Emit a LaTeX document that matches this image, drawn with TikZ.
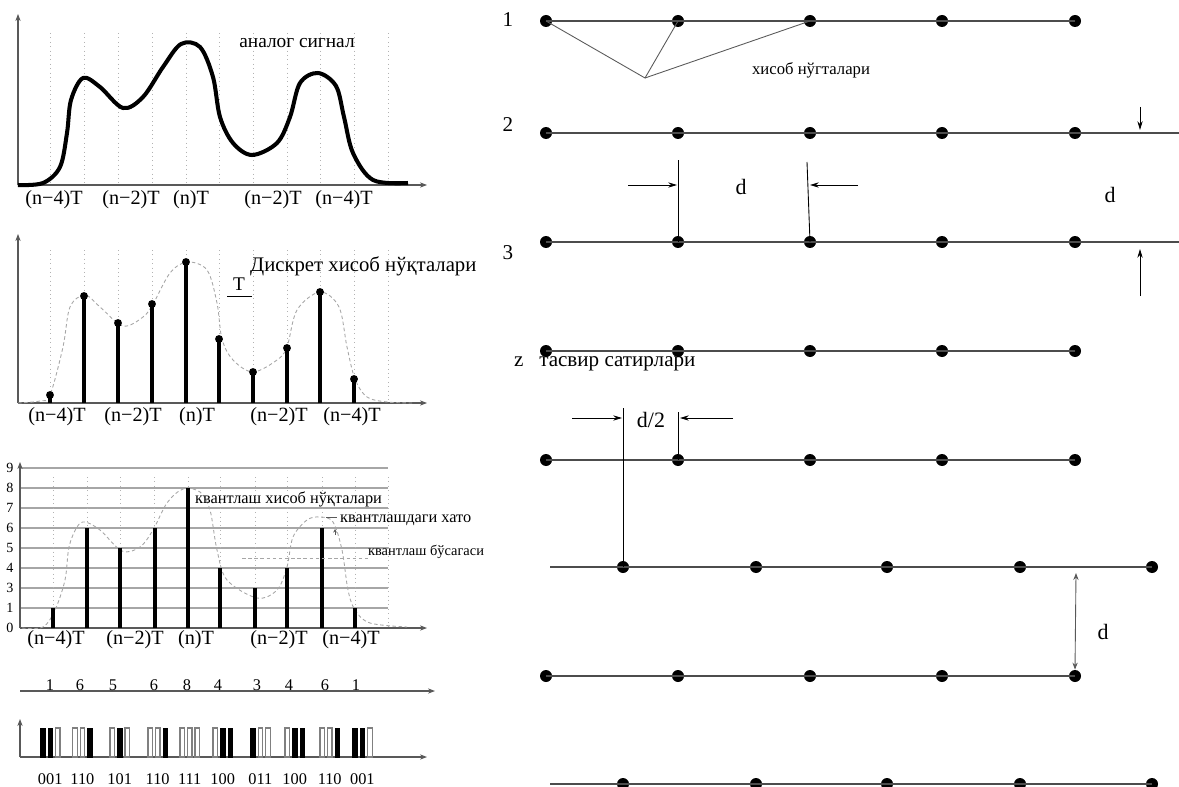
\documentclass[tikz,border=0pt]{standalone}
\usepackage{fontspec}
\setmainfont{Liberation Serif}
\usetikzlibrary{arrows.meta, positioning, calc}
\tikzset{
  % Signal panels
  sigaxis/.style={-{Stealth[length=4pt, width=3pt]}, gray!70!black, line width=0.6pt},
  gridline/.style={gray!60, dotted, line width=0.5pt},
  levelline/.style={gray!70, line width=0.6pt},
  analog/.style={line width=2.3pt, black, line join=round},
  envelope/.style={gray!70, dash pattern=on 2pt off 1.5pt, line width=0.5pt},
  sample/.style={line width=1.8pt, black},
  sampledot/.style={circle, fill=black, inner sep=0pt, minimum size=4.5pt},
  ticklabel/.style={font=\fontsize{11.5}{13}\selectfont, inner sep=1pt},
  siglabel/.style={font=\fontsize{11}{13}\selectfont, inner sep=1pt},
  smalllabel/.style={font=\fontsize{9.3}{11}\selectfont, inner sep=1pt},
  levellabel/.style={font=\fontsize{8}{9}\selectfont, inner sep=0pt},
  bit0/.style={fill=black, draw=black, line width=0.4pt},
  bit1/.style={fill=white, draw=gray, line width=0.6pt},
  % Image lines
  rowline/.style={gray!60!black, line width=0.9pt},
  rowdot/.style={circle, fill=black, inner sep=0pt, minimum size=0.24cm},
  thinline/.style={gray!70!black, line width=0.5pt},
  dimarrow/.style={-{Stealth[length=5pt, width=3pt]}, black, line width=0.5pt},
  rowlabel/.style={font=\fontsize{12}{14}\selectfont, inner sep=1pt},
  dimlabel/.style={font=\fontsize{12.5}{14}\selectfont, inner sep=1pt}
}
\begin{document}
\begin{tikzpicture}[x=0.02cm, y=-0.02cm]
  \useasboundingbox (0,0) rectangle (1179,787);

  % Analog signal
  \foreach \x in {50,84,118,152,186,219,253,287,320,354,388}
    \draw[gridline] (\x,33) -- (\x,185);
  \draw[sigaxis] (18,185) -- (427,185);
  \draw[sigaxis] (18,185) -- (18,14);
  \draw[analog] plot[smooth, tension=0.55] coordinates {
    (18,185) (43,183) (60,167) (67,133) (71,100) (83,78) (100,87) (123,108)
    (143,97) (163,67) (181,44) (200,47) (213,77) (220,117) (233,143)
    (252,155) (277,143) (290,117) (300,83) (318,73) (336,86) (344,117)
    (353,153) (373,180) (408,183)};
  \node[siglabel] (analog) at (297,43) {аналог сигнал};
  \foreach \x/\t [count=\i] in {54/(n−4)T, 131/(n−2)T, 191/(n)T, 273/(n−2)T, 344/(n−4)T}
    \node[ticklabel] (ta\i) at (\x,200) {\t};

  % Discrete samples
  \foreach \x in {50,84,118,152,186,219,253,287,320,354,388}
    \draw[gridline] (\x,250) -- (\x,403);
  \draw[sigaxis] (18,403) -- (427,403);
  \draw[sigaxis] (18,403) -- (18,234);
  \draw[envelope] plot[smooth, tension=0.55] coordinates {
    (18,403) (40,401) (50,395) (63,347) (70,307) (85,295) (100,307) (123,326)
    (143,317) (153,304) (170,273) (187,262) (207,270) (217,303) (222,339)
    (233,360) (253,372) (277,360) (287,347) (297,310) (320,292) (339,307)
    (347,347) (355,379) (367,397) (387,402) (413,403)};
  \foreach \x/\y [count=\i] in {50/395, 84/296, 118/323, 152/304, 186/262,
      219/339, 253/372, 287/348, 320/292, 354/379} {
    \draw[sample] (\x,403) -- (\x,\y);
    \node[sampledot] (s\i) at (\x,\y) {};
  }
  \node[siglabel, font=\fontsize{11.8}{13}\selectfont, anchor=west] (discrete) at (248,266) {Дискрет хисоб нўқталари};
  \node[siglabel] (period) at (239,284) {T};
  \draw[thinline, black] (227,296) -- (252,296);
  \foreach \x/\t [count=\i] in {57/(n−4)T, 133/(n−2)T, 197/(n)T, 279/(n−2)T, 352/(n−4)T}
    \node[ticklabel] (tb\i) at (\x,417) {\t};

  % Quantized samples
  \foreach \y/\v in {468/9, 488/8, 508/7, 528/6, 548/5, 568/4, 588/3, 608/1, 628/0} {
    \draw[levelline] (20,\y) -- (388,\y);
    \node[levellabel] (lv\v) at (10,\y) {\v};
  }
  \foreach \x in {53,87,120,154,188,220,255,287,322,355,388}
    \draw[gridline] (\x,477) -- (\x,628);
  \draw[sigaxis] (20,628) -- (427,628);
  \draw[sigaxis] (20,628) -- (20,462);
  \draw[envelope] plot[smooth, tension=0.55] coordinates {
    (22,628) (43,627) (55,610) (65,580) (69,547) (77,527) (85,522) (100,530)
    (122,551) (140,547) (153,530) (167,503) (183,489) (200,492) (210,510)
    (217,550) (227,580) (257,598) (277,590) (287,567) (293,537) (307,520)
    (320,517) (333,522) (342,550) (348,590) (355,610) (370,623) (407,627)};
  \foreach \x/\y [count=\i] in {53/608, 87/528, 120/548, 155/528, 188/488,
      220/568, 255/588, 287/568, 322/528, 355/608}
    \draw[sample] (\x,628) -- (\x,\y) coordinate (q\i);
  \draw[envelope] (242,558) -- (368,558);
  \node[smalllabel, anchor=west] (qpoints) at (193,499) {квантлаш хисоб нўқталари};
  \node[smalllabel, anchor=west] (qerror) at (338,520) {квантлашдаги хато};
  \node[smalllabel, font=\fontsize{8.2}{10}\selectfont, anchor=west] (qlevel) at (366,552) {квантлаш бўсагаси};
  \draw[thinline] (326,517) -- (337,517);
  \draw[-{Stealth[length=2pt, width=2pt]}, thinline] (335,535) -- (335,529);
  \foreach \x/\t [count=\i] in {56/(n−4)T, 135/(n−2)T, 196/(n)T, 279/(n−2)T, 351/(n−4)T}
    \node[ticklabel] (tc\i) at (\x,640) {\t};

  % Level values
  \draw[sigaxis] (20,691) -- (435,691);
  \foreach \x/\v [count=\i] in {50/1, 80/6, 113/5, 154/6, 187/8, 218/4, 257/3, 289/4, 325/6, 356/1}
    \node[smalllabel] (v\i) at (\x,685) {\v};

  % Binary codes
  \draw[sigaxis] (20,757) -- (427,757);
  \draw[sigaxis] (20,757) -- (20,719);
  \foreach \gx/\ba/\bb/\bc [count=\i] in {40.5/0/0/1, 72.7/1/1/0, 110/1/0/1, 148/1/1/0,
      180/1/1/1, 213/1/0/0, 250.7/0/1/1, 285/1/0/0, 320/1/1/0, 352.7/0/0/1} {
    \draw[bit\ba] (\gx,757) rectangle ++(4.5,-29);
    \draw[bit\bb] (\gx+7.5,757) rectangle ++(4.5,-29);
    \draw[bit\bc] (\gx+15,757) rectangle ++(4.5,-29);
    \node[smalllabel] (c\i) at (\gx+9.7,779) {\ba\bb\bc};
  }

  % Image lines with sampling points
  \foreach \r/\y in {1/21, 2/133, 3/242, 4/351, 5/460, 7/676}
    \foreach \x [count=\i] in {546,678,810,942,1075}
      \node[rowdot] (r\r d\i) at (\x,\y) {};
  \foreach \r/\y in {6/567, 8/784}
    \foreach \x [count=\i] in {623,756,887,1020,1152}
      \node[rowdot] (r\r d\i) at (\x,\y) {};
  \foreach \r in {1,4,5,7}
    \draw[rowline] (r\r d1.center) -- (r\r d5.center);
  \draw[rowline] (r2d1.center) -- (1179,133);
  \draw[rowline] (r3d1.center) -- (1179,242);
  \draw[rowline] (550,567) -- (r6d5.center);
  \draw[rowline] (550,784) -- (r8d5.center);

  \node[rowlabel] (n1) at (508,20) {1};
  \node[rowlabel] (n2) at (508,125) {2};
  \node[rowlabel] (n3) at (508,253) {3};
  \node[siglabel, font=\fontsize{12}{14}\selectfont, anchor=west] (zlines) at (512,364) {z\enspace\ тасвир сатирлари};

  % Sampling points callout
  \coordinate (hub) at (645,78);
  \draw[thinline] (r1d1.center) -- (hub) -- (r1d2.center);
  \draw[thinline] (r1d3.center) -- (hub);
  \node[siglabel, font=\fontsize{9.5}{11}\selectfont] (spoints) at (811,70) {хисоб нўгталари};

  % Horizontal pitch d
  \draw[thinline, black] (r3d2.center) -- (678,160) coordinate (e1);
  \draw[thinline, black] (r3d3.center) -- (807,162) coordinate (e2);
  \draw[dimarrow] (628,185) -- (677,185);
  \draw[dimarrow] (858,185) -- (810,185);
  \node[dimlabel] (dh) at (741,187) {d};

  % Vertical pitch d
  \draw[dimarrow] (1140,107) -- (1140,130);
  \draw[dimarrow] (1140,296) -- (1140,249);
  \node[dimlabel] (dv) at (1110,195) {d};

  % Half pitch shift
  \draw[thinline, black] (r6d1.center) -- (623,408);
  \draw[thinline, black] (r5d2.center) -- (678,412);
  \draw[dimarrow] (572,418) -- (622,418);
  \draw[dimarrow] (733,418) -- (680,418);
  \node[dimlabel] (dhalf) at (651,420) {d/2};

  % Line spacing d
  \draw[{Stealth[length=4pt, width=3pt]}-{Stealth[length=4pt, width=3pt]}, thinline]
    (1076,573) -- (r7d5.north);
  \node[dimlabel] (dl) at (1103,632) {d};
\end{tikzpicture}
\end{document}
